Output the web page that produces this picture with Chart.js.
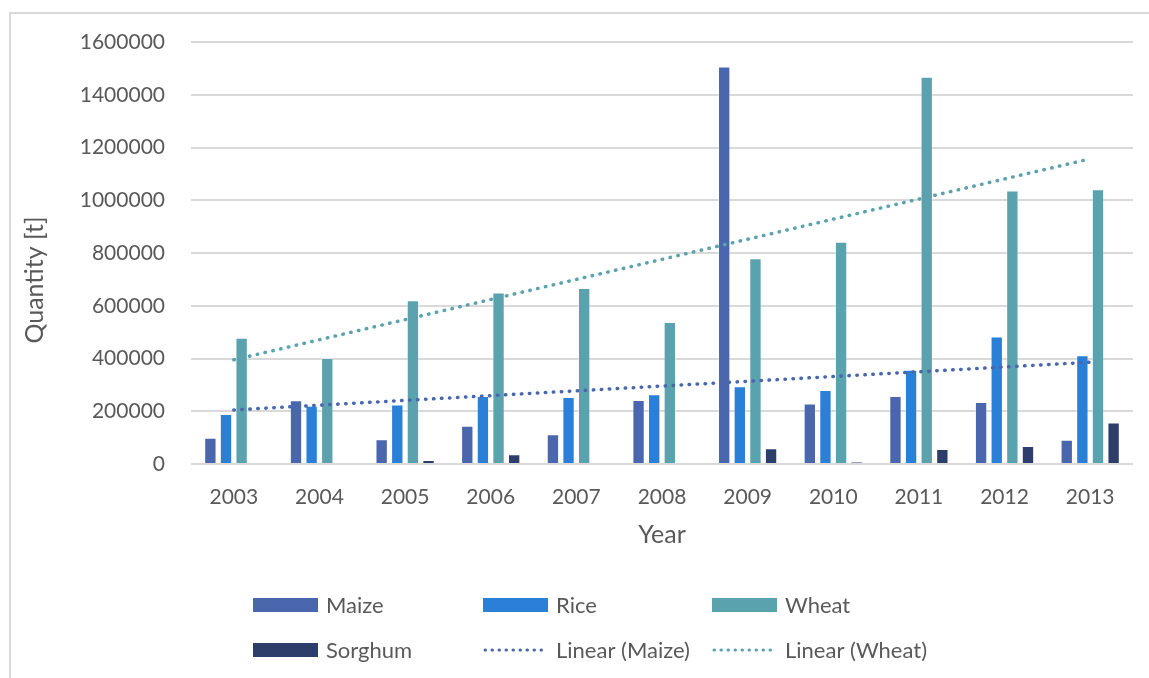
<!DOCTYPE html>
<html><head><meta charset="utf-8">
<script src="https://cdn.jsdelivr.net/npm/chart.js@4.4.0/dist/chart.umd.min.js"></script>
<style>
html,body{margin:0;padding:0;background:#fff;}
#wrap{position:relative;width:1149px;height:678px;overflow:hidden;}
#frame{position:absolute;left:9px;top:12px;width:1160px;height:720px;border:2px solid #d9d9d9;box-sizing:border-box;}
#c{position:absolute;left:0;top:0;}
</style></head><body>
<div id="wrap"><div id="frame"></div><canvas id="c" width="1149" height="678"></canvas></div>
<script>
const years = ['2003','2004','2005','2006','2007','2008','2009','2010','2011','2012','2013'];
const maize = [100000,242000,94000,145000,113000,243000,1507000,229000,258000,235000,92000];
const rice = [190000,221000,226000,258000,254000,264000,295000,281000,357000,483000,412000];
const wheat = [479000,402000,621000,650000,667000,538000,780000,843000,1468000,1037000,1042000];
const sorghum = [0,0,15000,37000,0,3000,60000,8000,57000,68000,157000];
const maizeTrend = [205000,null,null,null,null,null,null,null,null,null,386000];
const wheatTrend = [395000,null,null,null,null,null,null,null,null,null,1157000];
const seriesNames = ['Maize','Rice','Wheat','Sorghum','Linear (Maize)','Linear (Wheat)'];
const colors = ['#4a66ac','#2a7fd7','#5aa2ae','#2d3e6a','#4a66ac','#5aa2ae'];
const yMax = 1600000, yStep = 200000;

const textColor = '#595959';
const FONT = 'Lato';

function barSet(i, data){
  return {type:'bar', label:seriesNames[i], data:data, backgroundColor:colors[i],
    borderColor:'rgba(255,255,255,0.35)', borderWidth:1, order:1,
    barPercentage:0.79, categoryPercentage:0.73};
}
function trendSet(i, data){
  return {type:'line', label:seriesNames[i], data:data, borderColor:colors[i],
    borderWidth:3.5, borderDash:[0.5,7.5], borderCapStyle:'round', spanGaps:true,
    pointRadius:0, fill:false, tension:0, order:0};
}

const deco = {
  id:'deco',
  afterDraw(chart){
    const ctx = chart.ctx;
    ctx.save();
    ctx.fillStyle = textColor;
    ctx.font = '25px ' + FONT;
    ctx.textAlign = 'center'; ctx.textBaseline = 'middle';
    ctx.translate(35, 280); ctx.rotate(-Math.PI/2);
    ctx.fillText('Quantity [t]', 0, 0);
    ctx.restore();

    const colX = [253, 483, 712], rowY = [605, 650];
    ctx.save();
    ctx.font = '22px ' + FONT;
    ctx.textBaseline = 'middle'; ctx.textAlign = 'left';
    chart.data.datasets.forEach((ds, i) => {
      const x = colX[i % 3], y = rowY[Math.floor(i / 3)];
      if (ds.type === 'bar') {
        ctx.fillStyle = ds.backgroundColor;
        ctx.fillRect(x, y - 7, 65, 14);
      } else {
        ctx.strokeStyle = ds.borderColor;
        ctx.lineWidth = 3;
        ctx.lineCap = 'round';
        ctx.setLineDash([0.5, 6.5]);
        ctx.beginPath(); ctx.moveTo(x + 2, y); ctx.lineTo(x + 64, y); ctx.stroke();
        ctx.setLineDash([]);
      }
      ctx.fillStyle = textColor;
      ctx.fillText(ds.label, x + 73, y + 1);
    });
    ctx.restore();
  }
};

new Chart(document.getElementById('c'), {
  data: {
    labels: years,
    datasets: [barSet(0, maize), barSet(1, rice), barSet(2, wheat), barSet(3, sorghum),
               trendSet(4, maizeTrend), trendSet(5, wheatTrend)]
  },
  options: {
    responsive:false, animation:false, devicePixelRatio:1,
    layout:{padding:{left:20, right:16, top:42, bottom:127.8}},
    plugins:{legend:{display:false}, tooltip:{enabled:false}},
    scales:{
      x:{
        grid:{display:false}, border:{display:false},
        ticks:{color:textColor, font:{family:FONT, size:21}, padding:13, maxRotation:0},
        title:{display:true, text:'Year', color:textColor, font:{family:FONT, size:25}, padding:{top:-3, bottom:0}}
      },
      y:{
        min:0, max:yMax,
        afterFit(scale){ scale.width = 171; },
        grid:{color:'#d9d9d9', lineWidth:2, drawTicks:false}, border:{display:false},
        ticks:{stepSize:yStep, color:textColor, font:{family:FONT, size:21}, padding:26,
          callback:(v) => String(v)}
      }
    }
  },
  plugins:[deco]
});
</script>
</body></html>
